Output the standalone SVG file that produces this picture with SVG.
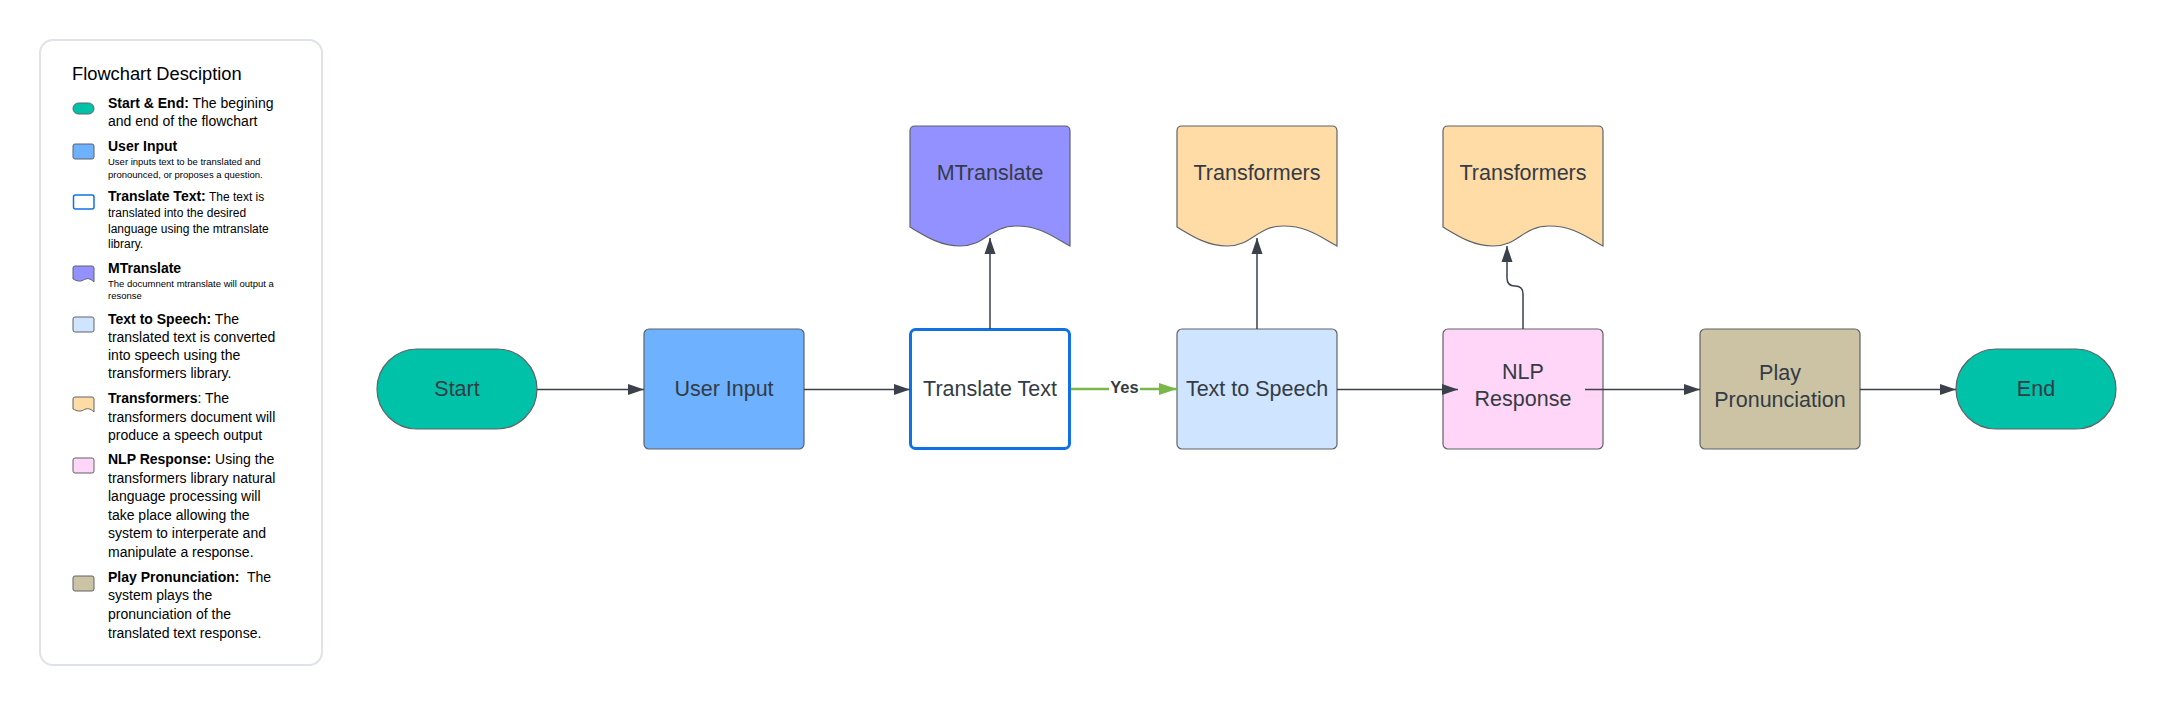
<svg xmlns="http://www.w3.org/2000/svg" width="2157" height="706" viewBox="0 0 2157 706">
<defs>
<style>
.node{stroke:#5f6369;stroke-width:1.2}
.ntext{font-family:"Liberation Sans",Arial,sans-serif;font-size:21.5px;fill:#333b45;text-anchor:middle}
.conn{fill:none;stroke:#3a414a;stroke-width:1.5}
.lg{font-family:"Liberation Sans",Arial,sans-serif;fill:#000}
.b{font-weight:bold}
.ic{stroke:#5f6369;stroke-width:1}
</style>
<marker id="ah" viewBox="0 0 16 12" refX="16" refY="6" markerWidth="16" markerHeight="12" markerUnits="userSpaceOnUse" orient="auto">
<path d="M0,0.5 L16,6 L0,11.5 Z" fill="#3a414a"/>
</marker>
<marker id="ahg" viewBox="0 0 18 12" refX="18" refY="6" markerWidth="18" markerHeight="12" markerUnits="userSpaceOnUse" orient="auto">
<path d="M0,0 L18,6 L0,12 Z" fill="#7ab648"/>
</marker>
</defs>
<rect width="2157" height="706" fill="#ffffff"/>

<g id="legend">
<rect x="40" y="40" width="282" height="625" rx="13" fill="#ffffff" stroke="#dfe2e8" stroke-width="2"/>
<text class="lg" x="72" y="80" font-size="18.3">Flowchart Desciption</text>
<rect class="ic" x="73" y="103" width="21" height="11" rx="5.5" fill="#00c2a8"/>
<text class="lg" font-size="14" x="108" y="108"><tspan class="b">Start &amp; End:</tspan> The begining</text>
<text class="lg" font-size="14" x="108" y="126">and end of the flowchart</text>
<rect class="ic" x="73" y="144" width="21" height="15" rx="2" fill="#6db1ff"/>
<text class="lg b" font-size="14" x="108" y="151">User Input</text>
<text class="lg" font-size="9.5" x="108" y="165">User inputs text to be translated and</text>
<text class="lg" font-size="9.5" x="108" y="178">pronounced, or proposes a question.</text>
<rect x="73.5" y="195" width="20.5" height="14" rx="2" fill="#ffffff" stroke="#1071e5" stroke-width="1.5"/>
<text class="lg" x="108" y="201"><tspan class="b" font-size="14">Translate Text:</tspan><tspan font-size="12"> The text is</tspan></text>
<text class="lg" font-size="12" x="108" y="217">translated into the desired</text>
<text class="lg" font-size="12" x="108" y="232.5">language using the mtranslate</text>
<text class="lg" font-size="12" x="108" y="248">library.</text>
<path class="ic" d="M73,268 Q73,266 75,266 H92 Q94,266 94,268 V282 C90,278 87,278 83.5,280 C80,282 77,281 73,279 Z" fill="#9391ff"/>
<text class="lg b" font-size="14" x="108" y="273">MTranslate</text>
<text class="lg" font-size="9.5" x="108" y="287">The documnent mtranslate will output a</text>
<text class="lg" font-size="9.5" x="108" y="299">resonse</text>
<rect class="ic" x="73" y="317" width="21" height="15" rx="2" fill="#cfe4ff"/>
<text class="lg" font-size="14" x="108" y="324"><tspan class="b">Text to Speech:</tspan> The</text>
<text class="lg" font-size="14" x="108" y="342">translated text is converted</text>
<text class="lg" font-size="14" x="108" y="360">into speech using the</text>
<text class="lg" font-size="14" x="108" y="378">transformers library.</text>
<path class="ic" d="M73,399 Q73,397 75,397 H92 Q94,397 94,399 V412 C90,408 87,408 83.5,410 C80,412 77,411 73,409 Z" fill="#ffdba6"/>
<text class="lg" font-size="14" x="108" y="403"><tspan class="b">Transformers</tspan>: The</text>
<text class="lg" font-size="14" x="108" y="422">transformers document will</text>
<text class="lg" font-size="14" x="108" y="440">produce a speech output</text>
<rect class="ic" x="73" y="458" width="21" height="15" rx="2" fill="#ffd6f7"/>
<text class="lg" font-size="14" x="108" y="464"><tspan class="b">NLP Response:</tspan> Using the</text>
<text class="lg" font-size="14" x="108" y="483">transformers library natural</text>
<text class="lg" font-size="14" x="108" y="501">language processing will</text>
<text class="lg" font-size="14" x="108" y="520">take place allowing the</text>
<text class="lg" font-size="14" x="108" y="538">system to interperate and</text>
<text class="lg" font-size="14" x="108" y="557">manipulate a response.</text>
<rect class="ic" x="73" y="576" width="21" height="15" rx="2" fill="#cbc3a3"/>
<text class="lg" font-size="14" x="108" y="582" xml:space="preserve"><tspan class="b">Play Pronunciation:</tspan>  The</text>
<text class="lg" font-size="14" x="108" y="600">system plays the</text>
<text class="lg" font-size="14" x="108" y="619">pronunciation of the</text>
<text class="lg" font-size="14" x="108" y="638">translated text response.</text>
</g>

<g id="start">
<rect class="node" x="377" y="349" width="160" height="80" rx="40" fill="#00c2a8"/>
<text class="ntext" x="457" y="396">Start</text>
</g>
<g id="user-input">
<rect class="node" x="644" y="329" width="160" height="120" rx="5" fill="#6db1ff"/>
<text class="ntext" x="724" y="396">User Input</text>
</g>
<g id="translate-text">
<rect x="910.5" y="329.5" width="159" height="119" rx="5" fill="#ffffff" stroke="#1071e5" stroke-width="3"/>
<text class="ntext" x="990" y="396">Translate Text</text>
</g>
<g id="mtranslate">
<path class="node" d="M910,131 Q910,126 915,126 H1065 Q1070,126 1070,131 V246 C1052,236 1040,226 1016,226 C990,226 985,246 960,246 C940,246 925,236 910,227 Z" fill="#9391ff"/>
<text class="ntext" x="990" y="180">MTranslate</text>
</g>
<g id="text-to-speech">
<rect class="node" x="1177" y="329" width="160" height="120" rx="5" fill="#cfe4ff"/>
<text class="ntext" x="1257" y="396">Text to Speech</text>
</g>
<g id="transformers-1">
<path class="node" d="M1177,131 Q1177,126 1182,126 H1332 Q1337,126 1337,131 V246 C1319,236 1307,226 1283,226 C1257,226 1252,246 1227,246 C1207,246 1192,236 1177,227 Z" fill="#ffdba6"/>
<text class="ntext" x="1257" y="180">Transformers</text>
</g>
<g id="nlp-response">
<rect class="node" x="1443" y="329" width="160" height="120" rx="5" fill="#ffd6f7"/>
<text class="ntext" x="1523" y="379">NLP</text>
<text class="ntext" x="1523" y="406">Response</text>
</g>
<g id="transformers-2">
<path class="node" d="M1443,131 Q1443,126 1448,126 H1598 Q1603,126 1603,131 V246 C1585,236 1573,226 1549,226 C1523,226 1518,246 1493,246 C1473,246 1458,236 1443,227 Z" fill="#ffdba6"/>
<text class="ntext" x="1523" y="180">Transformers</text>
</g>
<g id="play-pronunciation">
<rect class="node" x="1700" y="329" width="160" height="120" rx="5" fill="#cbc3a3"/>
<text class="ntext" x="1780" y="380">Play</text>
<text class="ntext" x="1780" y="407">Pronunciation</text>
</g>
<g id="end">
<rect class="node" x="1956" y="349" width="160" height="80" rx="40" fill="#00c2a8"/>
<text class="ntext" x="2036" y="396">End</text>
</g>

<g id="connectors">
<path class="conn" d="M537,389.5 H644" marker-end="url(#ah)"/>
<path class="conn" d="M804,389.5 H910" marker-end="url(#ah)"/>
<path class="conn" d="M990,329 V238" marker-end="url(#ah)"/>
<path d="M1071,389 H1177" fill="none" stroke="#7ab648" stroke-width="2.5" marker-end="url(#ahg)"/>
<rect x="1109" y="379" width="31" height="17" fill="#ffffff"/>
<text x="1124.5" y="393" font-family="Liberation Sans,Arial,sans-serif" font-size="16.5" font-weight="bold" fill="#333b45" text-anchor="middle">Yes</text>
<path class="conn" d="M1257,329 V238" marker-end="url(#ah)"/>
<path class="conn" d="M1337,389.5 H1458" marker-end="url(#ah)"/>
<path class="conn" d="M1523,329 V294 Q1523,286 1515,286 Q1507,286 1507,278 V246" marker-end="url(#ah)"/>
<path class="conn" d="M1585,389.5 H1700" marker-end="url(#ah)"/>
<path class="conn" d="M1860,389.5 H1956" marker-end="url(#ah)"/>
</g>
</svg>
